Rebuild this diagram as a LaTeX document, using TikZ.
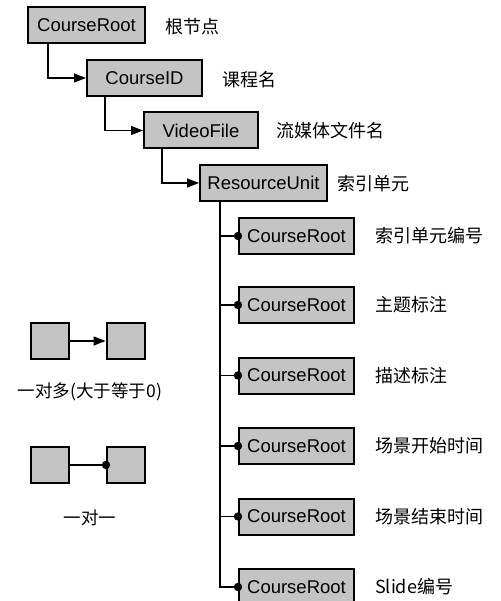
\documentclass[tikz,border=0pt]{standalone}
\usepackage{fontspec}
\setmainfont{Liberation Sans}
\newfontfamily\cjk{Noto Sans CJK SC}
\usetikzlibrary{arrows.meta}
\definecolor{boxgray}{RGB}{196,196,196}
\tikzset{
  ebox/.style={draw=black, line width=2pt, fill=boxgray, inner sep=0pt,
    minimum height=36pt, font=\fontsize{18.5}{18.5}\selectfont},
  lbox/.style={draw=black, line width=2pt, fill=boxgray, inner sep=0pt,
    minimum width=38pt, minimum height=36pt},
  lab/.style={anchor=west, inner sep=0pt, font=\cjk\fontsize{18}{18}\selectfont},
  clab/.style={inner sep=0pt, font=\cjk\fontsize{17.5}{17.5}\selectfont},
  conn/.style={line width=1.4pt},
  arr/.style={conn, -{Triangle[length=12pt,width=9pt]}},
}
\begin{document}
\begin{tikzpicture}[x=1pt,y=-1pt]
\useasboundingbox[fill=white] (0,0) rectangle (500,601);
% main chain
\node[ebox, minimum width=117pt] (root) at (86.5,25.5) {CourseRoot};
\node[ebox, minimum width=115pt] (cid) at (144.5,78) {CourseID};
\node[ebox, minimum width=114pt] (vf) at (201,130.5) {VideoFile};
\node[ebox, minimum width=127pt] (ru) at (263.5,183) {ResourceUnit};
\node[lab] (l0) at (165,27) {根节点};
\node[lab] (l1) at (222,80) {课程名};
\node[lab] (l2) at (276,131) {流媒体文件名};
\node[lab] (l3) at (337,184) {索引单元};
\draw[arr] ([xshift=21pt]root.south west) |- (cid.west);
\draw[arr] ([xshift=19pt]cid.south west) |- (vf.west);
\draw[arr] ([xshift=19pt]vf.south west) |- (ru.west);
% children
\foreach \i/\y/\t in {1/236/索引单元编号, 2/305/主题标注, 3/375.5/描述标注, 4/446/场景开始时间, 5/516.5/场景结束时间}{
  \node[ebox, minimum width=115pt] (c\i) at (296.5,\y) {CourseRoot};
  \node[lab] (t\i) at (375,\y) {\t};
}
\node[ebox, minimum width=115pt] (c6) at (296.5,587) {CourseRoot};
\node[lab] (t6) at (375,587) {\fontsize{18}{18}\selectfont Slide\cjk\fontsize{18}{18}\selectfont 编号};
\coordinate (trunk) at ([xshift=21pt]ru.south west);
\draw[conn] (trunk) |- (c6.west);
\foreach \i in {1,...,5}{
  \draw[conn] (trunk |- c\i.west) -- (c\i.west);
}
\foreach \i in {1,...,6}{
  \fill (c\i.west) circle (4.2pt);
}
% legend
\node[lbox] (a1) at (49.5,341) {};
\node[lbox] (b1) at (125.5,341) {};
\draw[arr] (a1.east) -- (b1.west);
\node[clab] (la) at (90,392) {一对多(大于等于0)};
\node[lbox] (a2) at (49.5,465) {};
\node[lbox] (b2) at (126,465) {};
\draw[conn] (a2.east) -- (b2.west);
\fill (b2.west) circle (4.2pt);
\node[clab] (lb) at (90,518) {一对一};
\end{tikzpicture}
\end{document}
